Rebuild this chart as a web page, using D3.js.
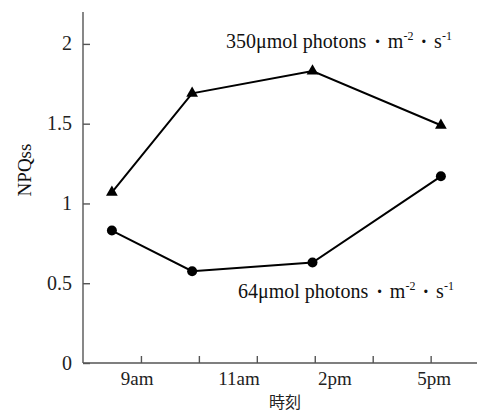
<!DOCTYPE html>
<html>
<head>
<meta charset="utf-8">
<script src="https://cdn.jsdelivr.net/npm/d3@7"></script>
<style>
  body { margin: 0; background: #fff; }
  svg { display: block; }
</style>
</head>
<body>
<div id="chart"></div>
<script>
// measurement times (hours of the day)
const hours = [9.0, 11.0, 14.0, 17.2];
const highLight = [1.07, 1.69, 1.83, 1.49];   // 350 µmol photons
const lowLight = [0.83, 0.575, 0.63, 1.17];   // 64 µmol photons
const yTicks = [0, 0.5, 1, 1.5, 2];
const yTickLabels = ['0', '0.5', '1', '1.5', '2'];
const xLabels = ['9am', '11am', '2pm', '5pm'];
const xLabelHours = [9.63, 12.17, 14.56, 17.03];

const width = 478, height = 414;
const plotLeft = 83, plotRight = 477, plotTop = 12, plotBottom = 363;
const serif = "'Liberation Serif'";

const svg = d3.select('#chart').append('svg')
    .attr('width', width)
    .attr('height', height);

const x = d3.scaleLinear().domain([8.28, 18.1]).range([plotLeft, plotRight]);
const y = d3.scaleLinear().domain([0, 2.2]).range([plotBottom, plotTop]);
// evenly spaced tick marks on the time axis
const xt = d3.scaleLinear().domain([0, 6.8]).range([plotLeft, plotRight]);

const axisColor = '#555';

// y axis
const yAxis = svg.append('g')
    .attr('transform', `translate(${plotLeft},0)`)
    .call(d3.axisRight(y).tickValues(yTicks).tickSize(7).tickFormat(''));
yAxis.select('.domain').attr('d', `M0,${plotTop}V${plotBottom}`);
yAxis.selectAll('path, line').attr('stroke', axisColor).attr('stroke-width', 1.4);

svg.selectAll('.ylab')
    .data(yTicks)
    .enter().append('text')
    .attr('class', 'ylab')
    .attr('x', plotLeft - 11)
    .attr('y', d => y(d) + 6.5)
    .attr('text-anchor', 'end')
    .style('font-family', serif)
    .style('font-size', '20px')
    .style('fill', '#222')
    .text((d, i) => yTickLabels[i]);

svg.append('text')
    .attr('transform', `translate(31,170) rotate(-90)`)
    .attr('text-anchor', 'middle')
    .style('font-family', serif)
    .style('font-size', '19px')
    .style('fill', '#111')
    .text('NPQss');

// x axis
const xAxis = svg.append('g')
    .attr('transform', `translate(0,${plotBottom})`)
    .call(d3.axisTop(xt).tickValues(d3.range(1, 7)).tickSize(7).tickFormat(''));
xAxis.select('.domain').attr('d', `M${plotLeft},0H${plotRight}`);
xAxis.selectAll('path, line').attr('stroke', axisColor).attr('stroke-width', 1.4);

svg.selectAll('.xlab')
    .data(xLabels)
    .enter().append('text')
    .attr('class', 'xlab')
    .attr('x', (d, i) => x(xLabelHours[i]))
    .attr('y', 385)
    .attr('text-anchor', 'middle')
    .style('font-family', serif)
    .style('font-size', '19px')
    .style('fill', '#222')
    .text(d => d);

svg.append('text')
    .attr('x', 285)
    .attr('y', 408)
    .attr('text-anchor', 'middle')
    .style('font-family', "'Noto Sans CJK JP'")
    .style('font-size', '16px')
    .style('fill', '#222')
    .text('時刻');

// series
const line = d3.line()
    .x((d, i) => x(hours[i]))
    .y(d => y(d));

[highLight, lowLight].forEach(vals => {
    svg.append('path')
        .datum(vals)
        .attr('fill', 'none')
        .attr('stroke', '#000')
        .attr('stroke-width', 2)
        .attr('d', line);
});

svg.selectAll('.tri')
    .data(highLight)
    .enter().append('path')
    .attr('class', 'tri')
    .attr('transform', (d, i) => `translate(${x(hours[i])},${y(d)})`)
    .attr('d', d3.symbol(d3.symbolTriangle, 60))
    .attr('fill', '#000');

svg.selectAll('.dot')
    .data(lowLight)
    .enter().append('circle')
    .attr('class', 'dot')
    .attr('cx', (d, i) => x(hours[i]))
    .attr('cy', d => y(d))
    .attr('r', 5)
    .attr('fill', '#000');

// annotations
function label(xPos, yPos, value) {
    const t = svg.append('text')
        .attr('x', xPos)
        .attr('y', yPos)
        .style('font-family', serif)
        .style('font-size', '20px')
        .style('fill', '#111');
    t.append('tspan').text(value + 'μmol photons');
    t.append('tspan').attr('dx', 8).style('font-weight', 'bold').text('·');
    t.append('tspan').attr('dx', 7).text('m');
    t.append('tspan').attr('dy', -8).style('font-size', '12px').text('-2');
    t.append('tspan').attr('dy', 8).attr('dx', 7).style('font-weight', 'bold').text('·');
    t.append('tspan').attr('dx', 7).text('s');
    t.append('tspan').attr('dy', -8).style('font-size', '12px').text('-1');
}
label(226, 48, '350');
label(238, 298, '64');
</script>
</body>
</html>
